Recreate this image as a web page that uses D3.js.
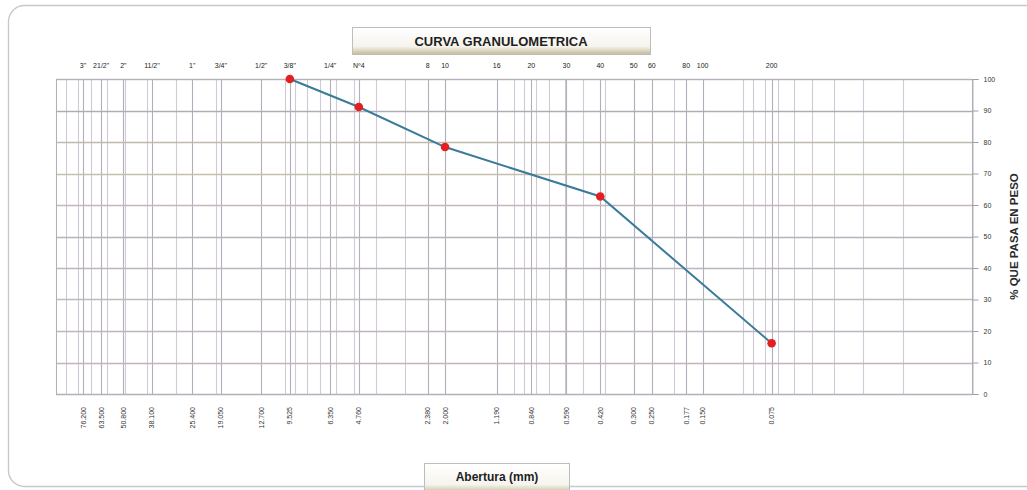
<!DOCTYPE html>
<html>
<head>
<meta charset="utf-8">
<script src="https://cdn.jsdelivr.net/npm/d3@7/dist/d3.min.js"></script>
<style>
  html, body { margin: 0; padding: 0; background: #fff; }
  svg { display: block; font-family: Arial, "Liberation Sans", sans-serif; }
</style>
</head>
<body>
<svg id="chart" width="1027" height="490"></svg>
<script>
// Sieve series: name printed on top, opening (mm) printed below
const sieveNames = ['3"', '21/2"', '2"', '11/2"', '1"', '3/4"', '1/2"', '3/8"', '1/4"', 'Nº4',
                    '8', '10', '16', '20', '30', '40', '50', '60', '80', '100', '200'];
const sieveOpenings = [76.2, 63.5, 50.8, 38.1, 25.4, 19.05, 12.7, 9.525, 6.35, 4.76,
                       2.38, 2.0, 1.19, 0.84, 0.59, 0.42, 0.3, 0.25, 0.177, 0.15, 0.075];
const openingLabels = ['76.200', '63.500', '50.800', '38.100', '25.400', '19.050', '12.700', '9.525',
                       '6.350', '4.760', '2.380', '2.000', '1.190', '0.840', '0.590', '0.420',
                       '0.300', '0.250', '0.177', '0.150', '0.075'];

// Test results: opening (mm) and percent passing
const sampleOpenings = [9.525, 4.76, 2.0, 0.42, 0.075];
const percentPassing = [100, 91.1, 78.4, 62.7, 16.1];

const percentTicks = [0, 10, 20, 30, 40, 50, 60, 70, 80, 90, 100];

const svg = d3.select('#chart');
const plotL = 56, plotR = 972, plotT = 79, plotB = 394;

const x = d3.scaleLog().domain([100, 0.01]).range([plotL, plotR]);
const y = d3.scaleLinear().domain([0, 100]).range([plotB, plotT]);

// outer frame
svg.append('rect')
  .attr('x', 8.5).attr('y', 5.5).attr('width', 1060).attr('height', 481)
  .attr('rx', 16).attr('ry', 16)
  .attr('fill', 'none').attr('stroke', '#c8c8d0').attr('stroke-width', 1.4);

const defs = svg.append('defs');
const grad = defs.append('linearGradient').attr('id', 'boxFill')
  .attr('x1', 0).attr('y1', 0).attr('x2', 0).attr('y2', 1);
grad.append('stop').attr('offset', '0%').attr('stop-color', '#ffffff');
grad.append('stop').attr('offset', '70%').attr('stop-color', '#f6f4ee');
grad.append('stop').attr('offset', '100%').attr('stop-color', '#c2b994');

// title box
svg.append('rect')
  .attr('x', 352.5).attr('y', 27.5).attr('width', 298).attr('height', 27)
  .attr('fill', 'url(#boxFill)').attr('stroke', '#bdbdbd');
svg.append('text')
  .attr('x', 501).attr('y', 46).attr('text-anchor', 'middle')
  .attr('font-size', 13).attr('font-weight', 'bold').attr('fill', '#1e1e1e')
  .text('CURVA GRANULOMETRICA');

// log minor grid (1..9 per decade)
const minor = [];
[0.01, 0.1, 1, 10].forEach(d => { for (let k = 1; k <= 9; k++) minor.push(d * k); });
minor.push(100);
const g = svg.append('g');
g.selectAll('line.minor').data(minor).enter().append('line')
  .attr('x1', d => Math.round(x(d)) + 0.5).attr('x2', d => Math.round(x(d)) + 0.5)
  .attr('y1', plotT).attr('y2', plotB)
  .attr('stroke', '#d0cad6').attr('stroke-width', 1.1);

// sieve grid
g.selectAll('line.sieve').data(sieveOpenings).enter().append('line')
  .attr('x1', d => Math.round(x(d)) + 0.5).attr('x2', d => Math.round(x(d)) + 0.5)
  .attr('y1', plotT).attr('y2', plotB)
  .attr('stroke', '#b4aebc').attr('stroke-width', 1.1);

// horizontal grid
const hColors = ['#b0adb5', '#c2b4bc', '#bfb4c2', '#b8bdb8', '#bcb4bf', '#b5b2bb', '#c4b6bc', '#c4c0aa', '#c0b9ae', '#b0aeb5', '#c0bcc6'];
g.selectAll('line.h').data(percentTicks).enter().append('line')
  .attr('x1', plotL).attr('x2', plotR)
  .attr('y1', d => Math.round(y(d)) + 0.5).attr('y2', d => Math.round(y(d)) + 0.5)
  .attr('stroke', (d, i) => hColors[i]).attr('stroke-width', 1.3);

// plot border
svg.append('rect')
  .attr('x', plotL + 0.5).attr('y', plotT + 0.5)
  .attr('width', plotR - plotL).attr('height', plotB - plotT)
  .attr('fill', 'none').attr('stroke', '#b4b0ba');

// right percent axis
const yAxis = d3.axisRight(y).tickValues(percentTicks).tickSize(6).tickPadding(5);
const ya = svg.append('g').attr('transform', `translate(${plotR + 0.5},0)`).call(yAxis);
ya.select('.domain').attr('stroke', '#b4b0ba');
ya.selectAll('.tick line').attr('stroke', '#a09ca6');
ya.selectAll('.tick text').attr('font-size', 7).attr('fill', '#333').attr('font-family', 'Arial, sans-serif');

svg.append('text')
  .attr('transform', `translate(1018,${(plotT + plotB) / 2}) rotate(-90)`)
  .attr('text-anchor', 'middle')
  .attr('font-size', 11.5).attr('font-weight', 'bold').attr('fill', '#2a2a2a')
  .text('% QUE PASA EN PESO');

// top sieve names
svg.append('g').selectAll('text').data(sieveOpenings).enter().append('text')
  .attr('x', d => x(d)).attr('y', 68)
  .attr('text-anchor', 'middle').attr('font-size', 7).attr('fill', '#222')
  .text((d, i) => sieveNames[i]);

// bottom openings (vertical)
svg.append('g').selectAll('text').data(sieveOpenings).enter().append('text')
  .attr('transform', d => `translate(${x(d) + 2.5},407) rotate(-90)`)
  .attr('text-anchor', 'end').attr('font-size', 7).attr('fill', '#333')
  .text((d, i) => openingLabels[i]);

// gradation curve
const pts = sampleOpenings.map((d, i) => [x(d), y(percentPassing[i])]);
svg.append('path')
  .attr('d', d3.line()(pts))
  .attr('fill', 'none').attr('stroke', '#3a7b9a').attr('stroke-width', 2);
svg.append('g').selectAll('circle').data(pts).enter().append('circle')
  .attr('cx', d => d[0]).attr('cy', d => d[1]).attr('r', 4.3)
  .attr('fill', '#e41f1f');

// x axis title box
svg.append('rect')
  .attr('x', 424.5).attr('y', 463.5).attr('width', 145).attr('height', 30)
  .attr('fill', 'url(#boxFill)').attr('stroke', '#bdbdbd');
svg.append('text')
  .attr('x', 497).attr('y', 481).attr('text-anchor', 'middle')
  .attr('font-size', 12).attr('font-weight', 'bold').attr('fill', '#1e1e1e')
  .text('Abertura (mm)');
</script>
</body>
</html>
